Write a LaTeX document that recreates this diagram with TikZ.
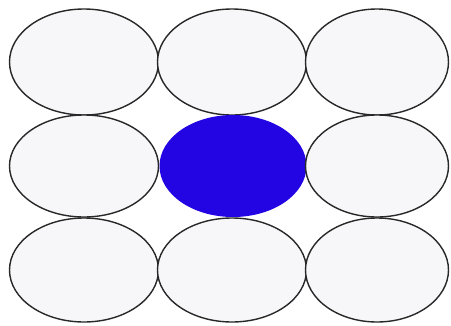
\documentclass[tikz,border=0pt]{standalone}
\usetikzlibrary{shapes.geometric}
\definecolor{cellfill}{RGB}{247,247,250}
\definecolor{cellline}{RGB}{40,40,40}
\definecolor{hotblue}{RGB}{35,5,228}
\tikzset{
  cell/.style={ellipse, draw=cellline, line width=1.4pt, fill=cellfill, inner sep=0pt},
  hot/.style={ellipse, draw=none, fill=hotblue, inner sep=0pt}
}
\begin{document}
\begin{tikzpicture}[x=1pt,y=-1pt]
\useasboundingbox[fill=white] (0,0) rectangle (451,325);
% row 1
\node[cell, minimum width=149pt, minimum height=106pt] (a1) at (84,62) {};
\node[cell, minimum width=149pt, minimum height=106pt] (a2) at (232,62) {};
\node[cell, minimum width=143pt, minimum height=106pt] (a3) at (377,62) {};
% row 2
\node[cell, minimum width=149pt, minimum height=102pt] (b1) at (84,166) {};
\node[hot, minimum width=147pt, minimum height=102pt] (b2) at (233,166) {};
\node[cell, minimum width=143pt, minimum height=102pt] (b3) at (377,166) {};
% row 3
\node[cell, minimum width=149pt, minimum height=104pt] (c1) at (84,270) {};
\node[cell, minimum width=149pt, minimum height=104pt] (c2) at (232,270) {};
\node[cell, minimum width=143pt, minimum height=104pt] (c3) at (377,270) {};
\end{tikzpicture}
\end{document}
